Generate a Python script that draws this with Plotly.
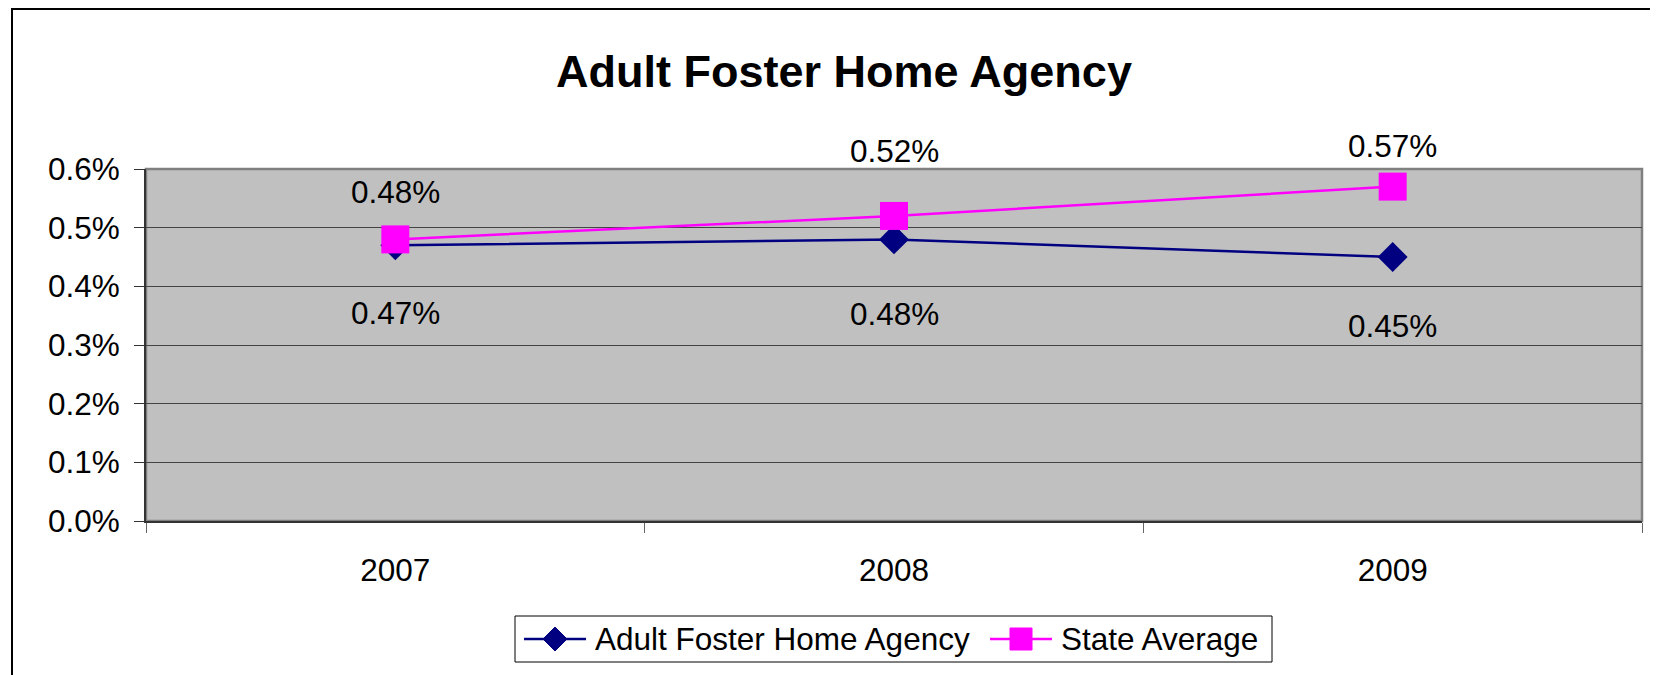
import plotly.graph_objects as go

# data
years = ["2007", "2008", "2009"]
agency = [0.0047, 0.0048, 0.0045]
state_avg = [0.0048, 0.0052, 0.0057]

# the html body adds an 8px margin, so the figure is built 8px smaller and
# all reference pixel positions are shifted by that amount
OFF = 8
W, H = 1658 - OFF, 675 - OFF
# plot area in reference pixels
L, R, T, B = 146 - OFF, 1642 - OFF, 169 - OFF, 521 - OFF
pw, ph = R - L, B - T


def px_x(x):
    return (x - OFF - L) / pw


def px_y(y):
    return (B - (y - OFF)) / ph


FONT = "Arial, Liberation Sans, sans-serif"
FS = 31.5
NAVY = "#000080"
PINK = "#FF00FF"

fig = go.Figure()
fig.add_trace(go.Scatter(
    x=years, y=agency, name="Adult Foster Home Agency",
    mode="lines+markers",
    line=dict(color=NAVY, width=2.5),
    marker=dict(symbol="diamond", size=23, color=NAVY),
))
fig.add_trace(go.Scatter(
    x=years, y=state_avg, name="State Average",
    mode="lines+markers",
    line=dict(color=PINK, width=2.5),
    marker=dict(symbol="square", size=28, color=PINK),
))

# data labels, placed like Excel did (x given as category index)
agency_shift = [-68, -75, -69]
state_shift = [47, 65, 41]
for i, (v, s) in enumerate(zip(agency, agency_shift)):
    fig.add_annotation(x=i, y=v, text=f"{v:.2%}", showarrow=False, yshift=s,
                       font=dict(size=FS, color="black", family=FONT))
for i, (v, s) in enumerate(zip(state_avg, state_shift)):
    fig.add_annotation(x=i, y=v, text=f"{v:.2%}", showarrow=False, yshift=s,
                       font=dict(size=FS, color="black", family=FONT))

# title
fig.add_annotation(xref="paper", yref="paper", x=px_x(844), y=px_y(72),
                   text="<b>Adult Foster Home Agency</b>", showarrow=False,
                   xanchor="center", yanchor="middle",
                   font=dict(size=45, color="black", family=FONT))

# plot area border + outer chart border
fig.add_shape(type="rect", xref="paper", yref="paper", x0=0, x1=1, y0=0, y1=1,
              line=dict(color="#808080", width=2.5), layer="below")
fig.add_shape(type="rect", xref="paper", yref="paper",
              x0=px_x(12), x1=px_x(1720), y0=px_y(9), y1=px_y(720),
              line=dict(color="black", width=2))

# Excel-style legend box (longer symbol lines than plotly's own legend)
ly = 639
fig.add_shape(type="rect", xref="paper", yref="paper",
              x0=px_x(515), x1=px_x(1272), y0=px_y(616), y1=px_y(662),
              line=dict(color="black", width=1), fillcolor="white")
legend_items = [
    ("Adult Foster Home Agency", NAVY, "diamond", 524, 586, 593),
    ("State Average", PINK, "square", 990, 1052, 1059),
]
for name, col, sym, x0, x1, tx in legend_items:
    fig.add_shape(type="line", xref="paper", yref="paper",
                  x0=px_x(x0), x1=px_x(x1), y0=px_y(ly), y1=px_y(ly),
                  line=dict(color=col, width=2.5))
    cx = (x0 + x1) / 2
    if sym == "diamond":
        r = 12
        path = (f"M{px_x(cx - r)},{px_y(ly)} L{px_x(cx)},{px_y(ly - r)} "
                f"L{px_x(cx + r)},{px_y(ly)} L{px_x(cx)},{px_y(ly + r)} Z")
        fig.add_shape(type="path", xref="paper", yref="paper", path=path,
                      fillcolor=col, line=dict(color=col, width=1))
    else:
        r = 11
        fig.add_shape(type="rect", xref="paper", yref="paper",
                      x0=px_x(cx - r), x1=px_x(cx + r),
                      y0=px_y(ly - r), y1=px_y(ly + r),
                      fillcolor=col, line=dict(color=col, width=1))
    fig.add_annotation(xref="paper", yref="paper", x=px_x(tx), y=px_y(ly),
                       text=name, showarrow=False, xanchor="left",
                       yanchor="middle",
                       font=dict(size=FS, color="black", family=FONT))

fig.update_layout(
    width=W, height=H,
    margin=dict(l=L, r=W - R, t=T, b=H - B),
    paper_bgcolor="white",
    plot_bgcolor="#C0C0C0",
    font=dict(family=FONT, size=FS, color="black"),
    showlegend=False,
)
fig.update_xaxes(
    type="category", range=[-0.5, 2.5],
    showgrid=False, showline=True, linecolor="#333333", linewidth=2,
    ticks="outside", tickson="boundaries", ticklen=10, tickcolor="#666666",
    tickfont=dict(size=FS), ticklabelstandoff=20, zeroline=False,
)
fig.update_yaxes(
    range=[0, 0.006], dtick=0.001, tickformat=".1%",
    showgrid=True, gridcolor="#444444", gridwidth=1,
    showline=True, linecolor="#333333", linewidth=2,
    ticks="outside", ticklen=10, tickcolor="#333333",
    tickfont=dict(size=FS), ticklabelstandoff=8, zeroline=False,
)

fig.write_html("out.html")
